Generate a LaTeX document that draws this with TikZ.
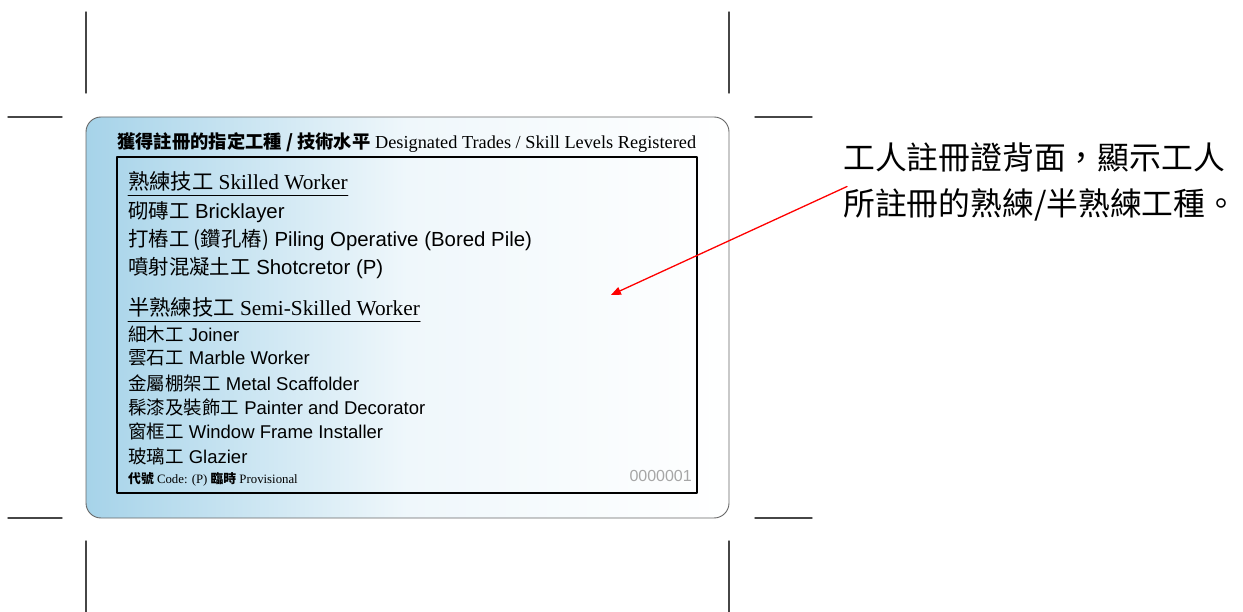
\documentclass[tikz,border=0pt]{standalone}
\usepackage{fontspec}
\setmainfont{Liberation Serif}
\setsansfont{Liberation Sans}
\newfontfamily\cjk{Noto Sans CJK TC}
\usepackage{tikz}
\tikzset{>=latex}
\usetikzlibrary{shapes,arrows}
\usetikzlibrary{calc}
\definecolor{cardblue}{RGB}{166,211,233}
\definecolor{cropgray}{RGB}{70,70,70}
\tikzset{
  cropline/.style={cropgray,line width=1.4pt},
  head/.style={inner sep=0pt,anchor=west,font=\fontsize{18.3}{20}\selectfont},
  grouphead/.style={inner sep=0pt,anchor=west,font=\fontsize{21.3}{23}\selectfont},
  bigitem/.style={inner sep=0pt,anchor=west,font=\sffamily\fontsize{20.4}{22}\selectfont},
  item/.style={inner sep=0pt,anchor=west,font=\sffamily\fontsize{18.5}{20}\selectfont},
  caption/.style={inner sep=0pt,anchor=west,font=\cjk\fontsize{31.8}{34}\selectfont},
}

\begin{document}
\begin{tikzpicture}[line cap=round,line join=round,>=triangle 45,x=1pt,y=-1pt]
	\useasboundingbox (0,0) rectangle (1243,612);
	\foreach \x in {86,729} {
	\draw[cropline] (\x,12) -- (\x,93);
	\draw[cropline] (\x,541) -- (\x,612);
	}
	\foreach \y in {117,518} {
	\draw[cropline] (8,\y) -- (62,\y);
	\draw[cropline] (755,\y) -- (812,\y);
	}
	\shade[rounded corners=15pt,left color=cardblue,right color=white,middle color=cardblue!18] (86,117) rectangle (729,518);
	\draw[gray!80!black,line width=0.9pt,rounded corners=15pt] (86,117) rectangle (729,518);
	\draw[black,line width=2.4pt] (117,157) rectangle (697,493);
	\node[head] (title) at (117,143) {{\cjk\bfseries 獲得註冊的指定工種 / 技術水平} Designated Trades / Skill Levels Registered};
	\node[grouphead] (skilled) at (128,181) {{\cjk 熟練技工} Skilled Worker};
	\draw[line width=1pt] ($(skilled.south west)+(0,4)$) -- ($(skilled.south east)+(0,4)$);
	\node[bigitem] (brick) at (128,212) {{\cjk 砌磚工} Bricklayer};
	\node[bigitem] (piling) at (128,240) {{\cjk 打樁工 (鑽孔樁)} Piling Operative (Bored Pile)};
	\node[bigitem] (shot) at (128,268) {{\cjk 噴射混凝土工} Shotcretor (P)};
	\node[grouphead] (semi) at (128,307) {{\cjk 半熟練技工} Semi-Skilled Worker};
	\draw[line width=1pt] ($(semi.south west)+(0,4)$) -- ($(semi.south east)+(0,4)$);
	\node[item] (joiner) at (128,334) {{\cjk 細木工} Joiner};
	\node[item] (marble) at (128,358) {{\cjk 雲石工} Marble Worker};
	\node[item] (scaff) at (128,383) {{\cjk 金屬棚架工} Metal Scaffolder};
	\node[item] (paint) at (128,407) {{\cjk 髹漆及裝飾工} Painter and Decorator};
	\node[item] (window) at (128,431) {{\cjk 窗框工} Window Frame Installer};
	\node[item] (glaz) at (128,456) {{\cjk 玻璃工} Glazier};
	\node[inner sep=0pt,anchor=west,font=\fontsize{12.8}{14}\selectfont] (code) at (128,479) {{\cjk\bfseries 代號} Code: (P) {\cjk\bfseries 臨時} Provisional};
	\node[inner sep=0pt,anchor=east,text=gray!70,font=\sffamily\fontsize{16}{18}\selectfont] (serial) at (692,476) {0000001};
	\node[caption] (capA) at (843,157) {工人註冊證背面，顯示工人};
	\node[caption] (capB) at (843,205) {所註冊的熟練/半熟練工種。};
	\coordinate (tip) at (611,295);
	\draw[->,red,line width=1.3pt] ($(capB.north west)+(4,-2)$) -- (tip);
\end{tikzpicture}
\end{document}
